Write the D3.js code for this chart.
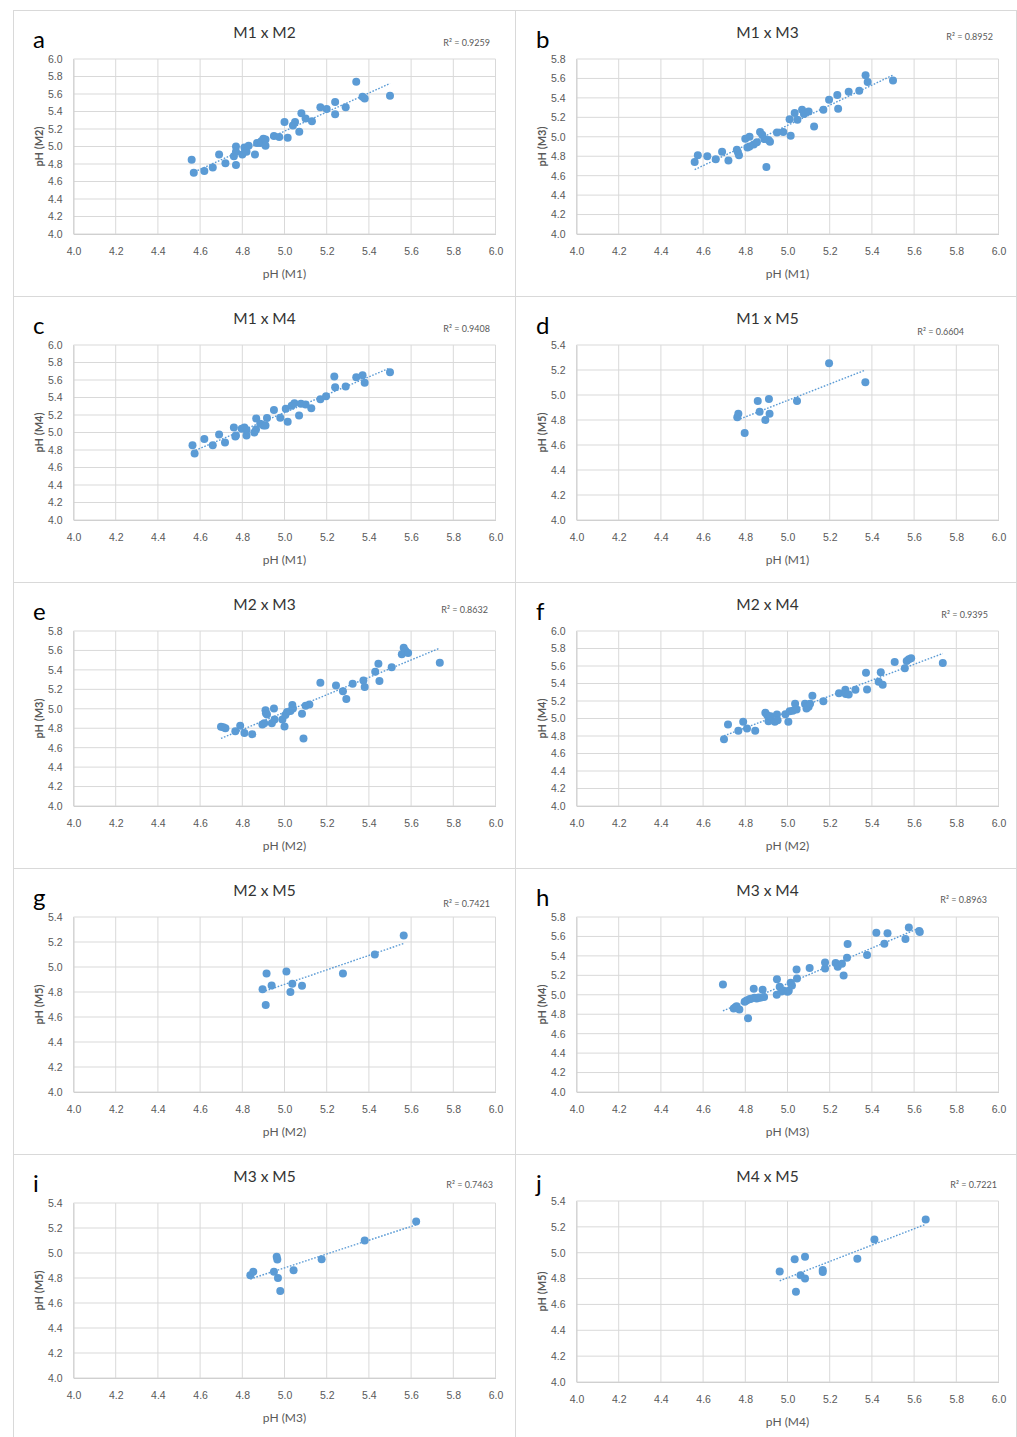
<!DOCTYPE html>
<html>
<head>
<meta charset="utf-8">
<script src="https://cdn.jsdelivr.net/npm/d3@7"></script>
<style>
  body { margin: 0; background: #fff; }
  svg { display: block; font-family: Lato, "Open Sans", sans-serif; }
</style>
</head>
<body>
<div class="chart"></div>
<script>
// pH readings, one array of [x, y] pairs per comparison
var m1m2 = [[4.56,4.85],[4.57,4.70],[4.62,4.72],[4.66,4.76],[4.69,4.91],[4.72,4.81],[4.77,4.79],[4.76,4.89],
  [4.77,4.94],[4.77,5.00],[4.80,4.91],[4.81,4.99],[4.82,4.94],[4.83,5.01],[4.86,4.91],[4.87,5.04],[4.885,5.04],
  [4.89,5.06],[4.90,5.09],[4.91,5.08],[4.91,5.01],[4.95,5.12],[4.975,5.11],[5.00,5.28],[5.015,5.10],[5.04,5.24],
  [5.05,5.28],[5.07,5.17],[5.08,5.38],[5.10,5.32],[5.13,5.29],[5.17,5.45],[5.20,5.43],[5.24,5.51],[5.24,5.37],
  [5.29,5.45],[5.34,5.74],[5.37,5.57],[5.38,5.55],[5.50,5.58]];
var m1m3 = [[4.56,4.74],[4.575,4.81],[4.62,4.80],[4.66,4.77],[4.69,4.845],[4.72,4.756],[4.76,4.866],[4.765,4.84],
  [4.77,4.81],[4.80,4.98],[4.81,4.89],[4.82,5.00],[4.82,4.90],[4.84,4.92],[4.855,4.945],[4.87,5.05],[4.88,5.02],
  [4.89,4.976],[4.90,4.69],[4.91,4.966],[4.917,4.95],[4.95,5.045],[4.98,5.05],[5.01,5.18],[5.015,5.01],[5.034,5.244],
  [5.047,5.175],[5.069,5.278],[5.078,5.234],[5.10,5.26],[5.126,5.107],[5.17,5.278],[5.197,5.381],[5.236,5.43],
  [5.24,5.289],[5.29,5.464],[5.34,5.474],[5.37,5.632],[5.38,5.564],[5.50,5.58]];
var m1m4 = [[4.564,4.854],[4.574,4.759],[4.62,4.927],[4.66,4.854],[4.69,4.977],[4.718,4.885],[4.76,5.057],[4.767,4.954],
  [4.77,4.966],[4.797,5.042],[4.81,5.057],[4.82,4.966],[4.82,5.03],[4.857,5.00],[4.865,5.034],[4.866,5.16],[4.885,5.10],
  [4.90,5.08],[4.91,5.08],[4.917,5.165],[4.95,5.257],[4.98,5.169],[5.006,5.272],[5.015,5.123],[5.034,5.306],[5.047,5.333],
  [5.069,5.195],[5.078,5.33],[5.10,5.32],[5.127,5.276],[5.17,5.38],[5.197,5.414],[5.236,5.64],[5.24,5.517],[5.29,5.525],
  [5.34,5.632],[5.37,5.655],[5.38,5.57],[5.50,5.69]];
var m1m5 = [[4.762,4.823],[4.767,4.85],[4.797,4.697],[4.859,4.952],[4.868,4.866],[4.895,4.80],[4.912,4.968],[4.915,4.85],
  [5.045,4.952],[5.197,5.255],[5.369,5.102]];
var m2m3 = [[4.699,4.814],[4.71,4.81],[4.72,4.80],[4.767,4.77],[4.79,4.825],[4.81,4.75],[4.847,4.739],[4.895,4.838],
  [4.904,4.85],[4.91,4.986],[4.912,4.955],[4.917,4.94],[4.94,4.85],[4.95,5.003],[4.953,4.89],[4.99,4.89],[5.00,4.818],
  [5.004,4.935],[5.012,4.966],[5.028,4.976],[5.037,5.04],[5.04,5.003],[5.083,4.948],[5.09,4.694],[5.10,5.03],[5.118,5.045],
  [5.17,5.268],[5.244,5.24],[5.277,5.18],[5.293,5.10],[5.323,5.258],[5.374,5.292],[5.38,5.223],[5.43,5.381],[5.445,5.464],
  [5.45,5.285],[5.508,5.426],[5.556,5.56],[5.565,5.629],[5.573,5.598],[5.586,5.574],[5.736,5.474]];
var m2m4 = [[4.699,4.763],[4.718,4.931],[4.767,4.859],[4.79,4.962],[4.808,4.885],[4.847,4.859],[4.895,5.065],[4.904,5.038],
  [4.91,4.969],[4.917,5.00],[4.92,5.027],[4.94,4.962],[4.95,5.046],[4.953,4.98],[4.99,5.05],[5.004,4.962],[5.01,5.084],
  [5.025,5.09],[5.036,5.168],[5.043,5.103],[5.083,5.168],[5.09,5.115],[5.10,5.134],[5.107,5.168],[5.118,5.26],[5.17,5.198],
  [5.244,5.29],[5.274,5.328],[5.276,5.279],[5.29,5.275],[5.322,5.328],[5.372,5.523],[5.377,5.332],[5.432,5.42],[5.442,5.53],
  [5.451,5.385],[5.508,5.645],[5.556,5.573],[5.565,5.656],[5.575,5.676],[5.586,5.69],[5.736,5.634]];
var m2m5 = [[4.896,4.823],[4.911,4.697],[4.915,4.948],[4.939,4.852],[5.009,4.964],[5.028,4.80],[5.037,4.866],[5.083,4.85],
  [5.277,4.948],[5.428,5.10],[5.565,5.253]];
var m3m4 = [[4.694,5.107],[4.745,4.859],[4.753,4.873],[4.759,4.883],[4.772,4.849],[4.797,4.928],[4.806,4.942],[4.813,4.759],
  [4.819,4.955],[4.827,4.959],[4.84,5.062],[4.843,4.969],[4.854,4.962],[4.863,4.973],[4.871,4.969],[4.882,5.052],[4.889,4.976],
  [4.949,5.00],[4.95,5.161],[4.963,5.082],[4.971,5.034],[4.98,5.045],[5.00,5.031],[5.006,5.041],[5.015,5.124],[5.021,5.096],
  [5.043,5.261],[5.045,5.168],[5.105,5.275],[5.178,5.271],[5.178,5.333],[5.228,5.326],[5.238,5.289],[5.258,5.32],[5.266,5.199],
  [5.282,5.381],[5.285,5.522],[5.377,5.409],[5.421,5.639],[5.459,5.526],[5.474,5.632],[5.559,5.574],[5.575,5.691],[5.624,5.656],
  [5.627,5.646]];
var m3m5 = [[4.838,4.823],[4.852,4.85],[4.95,4.85],[4.963,4.97],[4.966,4.948],[4.969,4.80],[4.98,4.697],[5.043,4.863],
  [5.176,4.951],[5.38,5.10],[5.624,5.253]];
var m4m5 = [[4.963,4.854],[5.034,4.95],[5.04,4.699],[5.062,4.826],[5.083,4.968],[5.083,4.80],[5.167,4.867],[5.167,4.851],
  [5.331,4.953],[5.412,5.103],[5.655,5.256]];

var panelLetters = ["a", "b", "c", "d", "e", "f", "g", "h", "i", "j"];
var panelTitles = ["M1 x M2", "M1 x M3", "M1 x M4", "M1 x M5", "M2 x M3", "M2 x M4", "M2 x M5", "M3 x M4", "M3 x M5", "M4 x M5"];
var xTitles = ["pH (M1)", "pH (M1)", "pH (M1)", "pH (M1)", "pH (M2)", "pH (M2)", "pH (M2)", "pH (M3)", "pH (M3)", "pH (M4)"];
var yTitles = ["pH (M2)", "pH (M3)", "pH (M4)", "pH (M5)", "pH (M3)", "pH (M4)", "pH (M5)", "pH (M4)", "pH (M5)", "pH (M5)"];
var yMaxes = [6.0, 5.8, 6.0, 5.4, 5.8, 6.0, 5.4, 5.8, 5.4, 5.4];
var r2Labels = ["R² = 0.9259", "R² = 0.8952", "R² = 0.9408", "R² = 0.6604", "R² = 0.8632",
  "R² = 0.9395", "R² = 0.7421", "R² = 0.8963", "R² = 0.7463", "R² = 0.7221"];
var allData = [m1m2, m1m3, m1m4, m1m5, m2m3, m2m4, m2m5, m3m4, m3m5, m4m5];

// layout
var svgWidth = 1017, svgHeight = 1437;
var colX = [13, 516], rowY = [10, 296, 582, 868, 1154];
var plot = { left: 60.5, top: 49, width: 422, height: 175 };
// where Excel left each R² label (right end, baseline) inside its panel
var r2Pos = [[477, 36], [477, 30], [477, 36], [448, 39], [475, 31], [472, 36], [477, 39], [471, 35], [480, 34], [481, 34]];

var blue = "#5b9bd5", grid = "#d9d9d9", tickGrey = "#595959";

var svg = d3.select(".chart").append("svg")
  .attr("width", svgWidth)
  .attr("height", svgHeight);

// panel frame lines
var frame = svg.append("g").attr("stroke", grid).attr("stroke-width", 1);
[13.5, 515.5, 1016.5].forEach(function(x) {
  frame.append("line").attr("x1", x).attr("x2", x).attr("y1", 10).attr("y2", svgHeight);
});
[10.5, 296.5, 582.5, 868.5, 1154.5].forEach(function(y) {
  frame.append("line").attr("x1", 13).attr("x2", 1017).attr("y1", y).attr("y2", y);
});

allData.forEach(function(data, i) {
  var g = svg.append("g")
    .attr("transform", `translate(${colX[i % 2]}, ${rowY[Math.floor(i / 2)]})`);

  // the last panel sits a few pixels taller in the original
  var pTop = plot.top, pH = plot.height;
  if (i === 9) { pTop = 47; pH = 181; }

  var x = d3.scaleLinear().domain([4, 6]).range([0, plot.width]);
  var y = d3.scaleLinear().domain([4, yMaxes[i]]).range([pH, 0]);
  var xTicks = x.ticks(10);
  var yTicks = y.ticks(Math.round((yMaxes[i] - 4) / 0.2));

  var chartGroup = g.append("g")
    .attr("transform", `translate(${plot.left}, ${pTop})`);

  // gridlines
  chartGroup.append("g").selectAll("line").data(xTicks).enter().append("line")
    .attr("x1", d => x(d)).attr("x2", d => x(d))
    .attr("y1", 0).attr("y2", pH)
    .attr("stroke", grid);
  chartGroup.append("g").selectAll("line").data(yTicks).enter().append("line")
    .attr("x1", 0).attr("x2", plot.width)
    .attr("y1", d => y(d)).attr("y2", d => y(d))
    .attr("stroke", grid);

  // axes (labels only, lines come from the grid)
  var fmt = d3.format(".1f");
  var yAxis = chartGroup.append("g")
    .call(d3.axisLeft(y).tickValues(yTicks).tickSize(0).tickPadding(11).tickFormat(fmt));
  var xAxis = chartGroup.append("g")
    .attr("transform", `translate(0, ${pH})`)
    .call(d3.axisBottom(x).tickValues(xTicks).tickSize(0).tickPadding(14).tickFormat(fmt));
  [xAxis, yAxis].forEach(function(a) {
    a.select(".domain").attr("stroke", "#d0d0d0");
    a.selectAll("text").style("font-size", "10.5px").attr("fill", tickGrey);
  });

  // linear trendline (least squares), drawn over the data range
  var mx = d3.mean(data, d => d[0]), my = d3.mean(data, d => d[1]);
  var slope = d3.sum(data, d => (d[0] - mx) * (d[1] - my)) / d3.sum(data, d => (d[0] - mx) * (d[0] - mx));
  var x0 = d3.min(data, d => d[0]), x1 = d3.max(data, d => d[0]);
  chartGroup.append("line")
    .attr("x1", x(x0)).attr("y1", y(my + slope * (x0 - mx)))
    .attr("x2", x(x1)).attr("y2", y(my + slope * (x1 - mx)))
    .attr("stroke", blue)
    .attr("stroke-width", 1.4)
    .attr("stroke-dasharray", "1.6,1.6");

  // points
  chartGroup.selectAll("circle")
    .data(data)
    .enter()
    .append("circle")
    .attr("cx", d => x(d[0]))
    .attr("cy", d => y(d[1]))
    .attr("r", 4)
    .attr("fill", blue);

  // panel letter
  g.append("text")
    .attr("x", 20).attr("y", 38)
    .style("font-size", "24px")
    .attr("fill", "#000")
    .text(panelLetters[i]);

  // title
  g.append("text")
    .attr("x", 251.5).attr("y", 28)
    .attr("text-anchor", "middle")
    .style("font-size", "15.5px")
    .attr("fill", "#333")
    .text(panelTitles[i]);

  // R² label
  g.append("text")
    .attr("x", r2Pos[i][0]).attr("y", r2Pos[i][1])
    .attr("text-anchor", "end")
    .style("font-size", "9px")
    .attr("fill", tickGrey)
    .text(r2Labels[i]);

  // axis titles
  g.append("text")
    .attr("transform", `translate(${plot.left + plot.width / 2}, ${pTop + pH + 44})`)
    .attr("text-anchor", "middle")
    .style("font-size", "12px")
    .attr("fill", tickGrey)
    .text(xTitles[i]);

  g.append("text")
    .attr("transform", `translate(30, ${pTop + pH / 2}) rotate(-90)`)
    .attr("text-anchor", "middle")
    .style("font-size", "11px")
    .style("font-weight", "bold")
    .attr("fill", tickGrey)
    .text(yTitles[i]);
});
</script>
</body>
</html>
